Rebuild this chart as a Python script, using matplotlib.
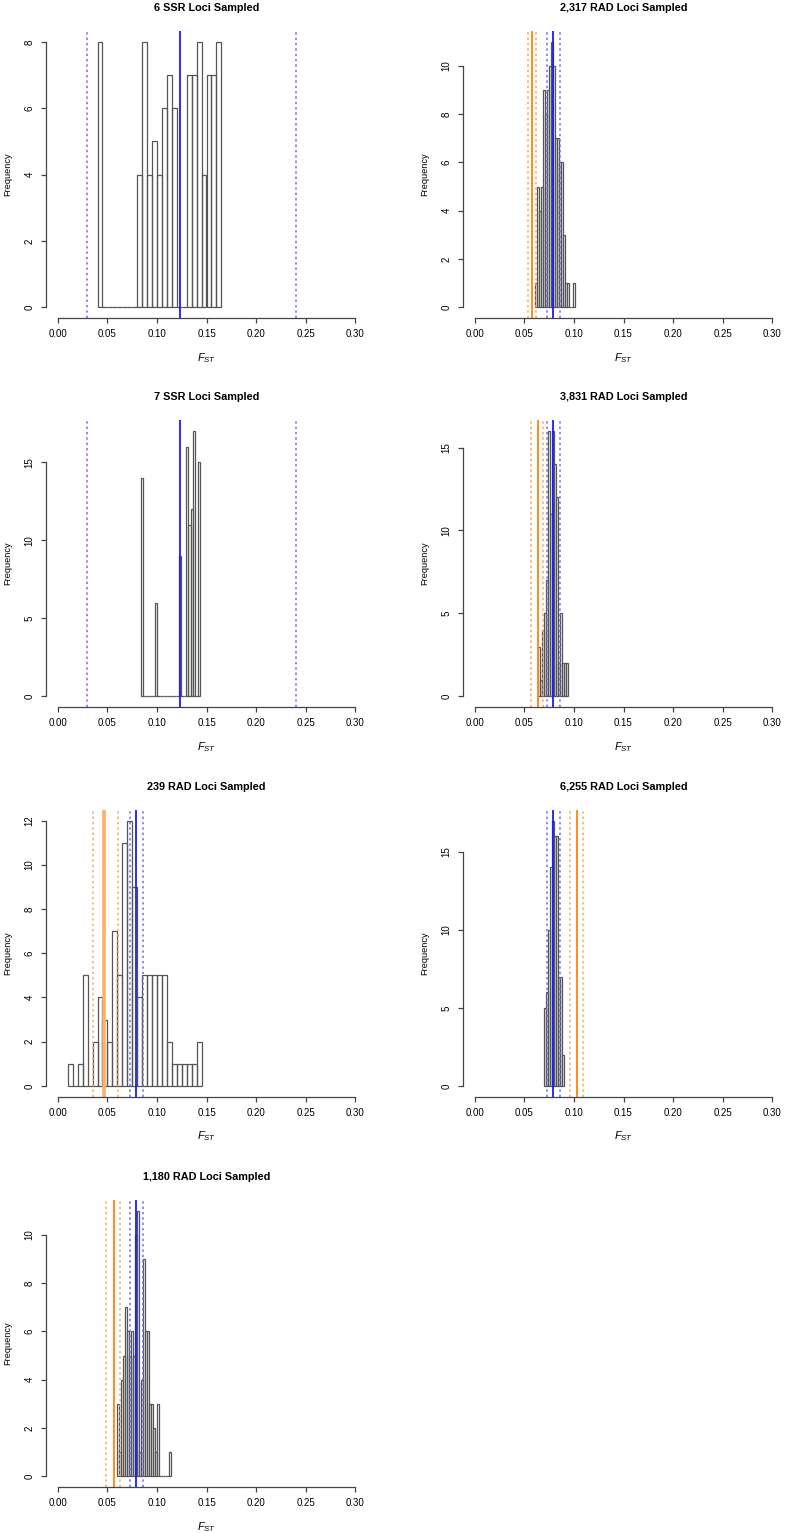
import matplotlib.pyplot as plt
import numpy as np

plt.rcParams['font.family'] = ['Liberation Sans', 'DejaVu Sans']
plt.rcParams['mathtext.fontset'] = 'custom'
plt.rcParams['mathtext.it'] = 'Liberation Sans:italic'
plt.rcParams['mathtext.rm'] = 'Liberation Sans'

# panel titles, in the order left column top->bottom, then right column
titles = ["6 SSR Loci Sampled", "7 SSR Loci Sampled", "239 RAD Loci Sampled",
          "1,180 RAD Loci Sampled", "2,317 RAD Loci Sampled",
          "3,831 RAD Loci Sampled", "6,255 RAD Loci Sampled"]

# histogram bins (first edge, bin width) and counts per bin
bin_start = [0.040, 0.0836, 0.010, 0.060, 0.061, 0.064, 0.070]
bin_width = [0.005, 0.0024, 0.005, 0.002, 0.002, 0.002, 0.002]
counts_6ssr = [8, 0, 0, 0, 0, 0, 0, 0, 4, 8, 4, 5, 4, 6, 7, 6, 0, 0, 7, 7, 8, 4, 7, 7, 8]
counts_7ssr = [14, 0, 0, 0, 0, 0, 6, 0, 0, 0, 0, 0, 0, 0, 0, 0, 9, 0, 0, 16, 11, 12, 17, 0, 15]
counts_239 = [1, 0, 1, 5, 0, 2, 4, 3, 2, 7, 5, 11, 12, 9, 4, 5, 5, 5, 5, 5, 2, 1, 1, 1, 1, 1, 2]
counts_1180 = [3, 1, 4, 5, 7, 6, 5, 6, 5, 10, 11, 1, 4, 9, 6, 6, 3, 3, 2, 1, 3, 0, 0, 0, 0, 0, 1]
counts_2317 = [1, 5, 4, 5, 9, 8, 9, 10, 11, 10, 7, 7, 6, 6, 3, 1, 1, 0, 0, 1]
counts_3831 = [3, 1, 4, 5, 7, 16, 11, 16, 14, 12, 2, 5, 2, 2, 2]
counts_6255 = [5, 6, 10, 14, 17, 16, 16, 7, 7, 2]
counts = [counts_6ssr, counts_7ssr, counts_239, counts_1180,
          counts_2317, counts_3831, counts_6255]

# y tick values per panel
yticks = [[0, 2, 4, 6, 8], [0, 5, 10, 15], [0, 2, 4, 6, 8, 10, 12],
          [0, 2, 4, 6, 8, 10], [0, 2, 4, 6, 8, 10], [0, 5, 10, 15], [0, 5, 10, 15]]
xticks = [0.00, 0.05, 0.10, 0.15, 0.20, 0.25, 0.30]

# reference F_ST (blue) and sample F_ST (orange): lower CI, estimate, upper CI
blue_ssr = [0.029, 0.1234, 0.2407]
blue_rad = [0.073, 0.079, 0.086]
blue_lines = [blue_ssr, blue_ssr, blue_rad, blue_rad, blue_rad, blue_rad, blue_rad]
orange_lines = [None, None, [0.0354, 0.0462, 0.0607], [0.0485, 0.0566, 0.063],
                [0.0533, 0.0573, 0.0621], [0.0568, 0.0632, 0.0684],
                [0.0957, 0.1028, 0.1089]]

W, H = 785, 1533
fig = plt.figure(figsize=(W / 100, H / 100), dpi=100)

col_left = [46, 463]
row_top = [31.3, 420.4, 810, 1200.3]
pw, ph = 321, 286.5
slots = [(0, 0), (0, 1), (0, 2), (0, 3), (1, 0), (1, 1), (1, 2)]

axis_col = "#444444"
for i, (c, r) in enumerate(slots):
    ax = fig.add_axes([col_left[c] / W, 1 - (row_top[r] + ph) / H, pw / W, ph / H])
    n = len(counts[i])
    edges = bin_start[i] + bin_width[i] * np.arange(n + 1)
    ax.bar(edges[:-1], counts[i], width=bin_width[i], align='edge', fill=False,
           edgecolor="#555555", linewidth=0.9)
    ymax = max(counts[i])
    ax.set_xlim(-0.012, 0.312)
    ax.set_ylim(-0.04 * ymax, 1.04 * ymax)

    if orange_lines[i] is not None:
        lo, mid, hi = orange_lines[i]
        if i == 2:
            ax.axvline(mid, color="#ffb066", lw=2.6)
        else:
            ax.axvline(mid, color="#ff8c1a", lw=1.4)
        for v in (lo, hi):
            ax.axvline(v, color="#ffa552", lw=1.1, ls=(0, (1.5, 2)))
    lo, mid, hi = blue_lines[i]
    ax.axvline(mid, color="#1a1aff", lw=1.3)
    for v in (lo, hi):
        ax.axvline(v, color="#6a6aff", lw=1.1, ls=(0, (1.5, 2)))

    for side in ("top", "right"):
        ax.spines[side].set_visible(False)
    ax.spines["left"].set_bounds(yticks[i][0], yticks[i][-1])
    ax.spines["bottom"].set_bounds(0, 0.30)
    for side in ("left", "bottom"):
        ax.spines[side].set_color(axis_col)
        ax.spines[side].set_linewidth(0.9)

    ax.set_xticks(xticks)
    ax.set_xticklabels(["%.2f" % t for t in xticks])
    ax.set_yticks(yticks[i])
    ax.set_yticklabels([str(t) for t in yticks[i]], rotation=90, va="center")
    ax.tick_params(length=3.6, width=0.9, color=axis_col, labelsize=7, pad=4.5)

    ax.text(0.5, 1 + 23 / ph, titles[i], transform=ax.transAxes, ha="center",
            va="center", fontsize=7.8, fontweight="bold")
    ax.text(0.5, -40 / ph, r"$F_{ST}$", transform=ax.transAxes, ha="center",
            va="center", fontsize=8)
    ax.text(-38 / pw, 0.5, "Frequency", transform=ax.transAxes, ha="center",
            va="center", rotation=90, fontsize=6.7)

fig.savefig("out.png", dpi=100)
